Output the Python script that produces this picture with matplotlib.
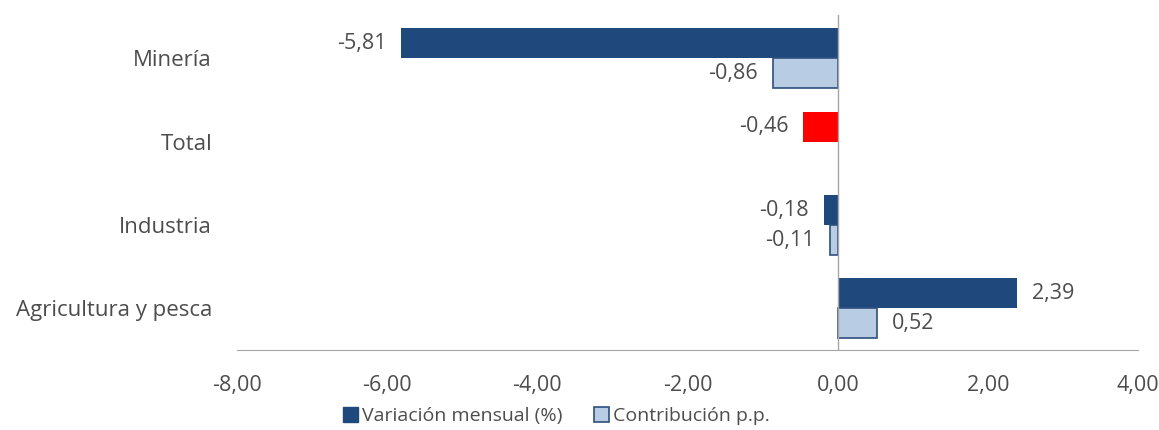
import numpy as np
import matplotlib.pyplot as plt

plt.rcParams['font.family'] = ['Open Sans', 'DejaVu Sans']

categorias = ['Minería', 'Total', 'Industria', 'Agricultura y pesca']
variacion = [-5.81, -0.46, -0.18, 2.39]
contribucion = [-0.86, np.nan, -0.11, 0.52]
ticks = [-8, -6, -4, -2, 0, 2, 4]

azul = '#1f497d'
celeste = '#b8cce4'
borde = '#2f4f7f'
gris = '#4d4d4d'

fig = plt.figure(figsize=(11.59, 4.30), dpi=100)
ax = fig.add_axes([0.2045, 0.186, 0.7775, 0.779])

y = np.arange(len(categorias))
h = 0.36
colores = [azul if c != 'Total' else '#ff0000' for c in categorias]
b1 = ax.barh(y - h / 2, variacion, height=h, color=colores, label='Variación mensual (%)')
b2 = ax.barh(y + h / 2, contribucion, height=h, color=celeste, edgecolor=borde, linewidth=1.2,
             label='Contribución p.p.')

def etiquetas(barras, vals):
    for b, v in zip(barras, vals):
        if np.isnan(v):
            continue
        yc = b.get_y() + b.get_height() / 2
        txt = f'{v:.2f}'.replace('.', ',')
        if v < 0:
            ax.text(v - 0.2, yc, txt, ha='right', va='center', fontsize=15.5, color=gris)
        else:
            ax.text(v + 0.2, yc, txt, ha='left', va='center', fontsize=15.5, color=gris)

etiquetas(b1, variacion)
etiquetas(b2, contribucion)

ax.set_xlim(-8, 4)
ax.set_ylim(len(categorias) - 0.5, -0.52)
ax.set_yticks(y)
ax.set_yticklabels(categorias, fontsize=16, color=gris)
ax.set_xticks(ticks)
ax.set_xticklabels([f'{t:.2f}'.replace('.', ',') for t in ticks], fontsize=15.5, color=gris)
ax.tick_params(length=0)
ax.tick_params(axis='x', pad=18)
ax.tick_params(axis='y', pad=18)
for s in ['top', 'right', 'left']:
    ax.spines[s].set_visible(False)
ax.spines['bottom'].set_color('#a6a6a6')
ax.axvline(0, color='#a6a6a6', linewidth=1)

leg = fig.legend(handles=[b1[0], b2], labels=['Variación mensual (%)', 'Contribución p.p.'],
                 loc='lower center', bbox_to_anchor=(0.48, -0.03), ncol=2, frameon=False,
                 fontsize=14, handlelength=0.8, handleheight=0.8, handletextpad=0.2,
                 columnspacing=1.6)
leg.legend_handles[0].set_color(azul)
for t in leg.get_texts():
    t.set_color(gris)

fig.savefig('out.png', dpi=100)
